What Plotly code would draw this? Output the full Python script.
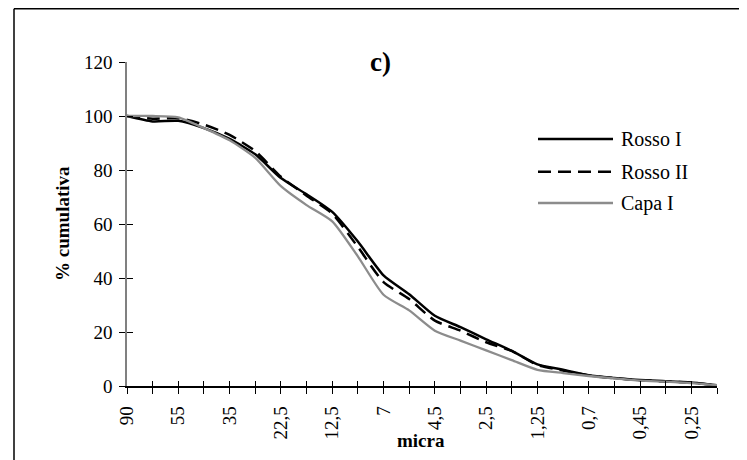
import plotly.graph_objects as go

# Data
tick_labels = ["90", "55", "35", "22,5", "12,5", "7", "4,5", "2,5", "1,25", "0,7", "0,45", "0,25"]
n_points = 24
x_index = list(range(n_points))
tick_positions = list(range(0, 24, 2))

rosso_i = [100, 98.0, 98.2, 95.5, 91.5, 85.8, 77.0, 71.0, 64.5, 53.5, 41.0, 34.0,
           26.0, 21.8, 17.3, 13.0, 8.0, 6.0, 4.0, 3.0, 2.2, 1.8, 1.3, 0.3]
rosso_ii = [100, 99.0, 99.2, 96.8, 93.0, 87.0, 77.5, 70.5, 63.8, 51.5, 38.5, 32.2,
            24.2, 20.5, 16.2, 13.0, 7.8, 5.7, 3.9, 2.9, 2.1, 1.7, 1.2, 0.3]
capa_i = [100, 100, 99.5, 95.5, 91.0, 84.5, 74.0, 67.0, 61.0, 48.0, 33.8, 28.0,
          20.5, 16.8, 13.2, 9.6, 6.0, 4.8, 3.7, 2.8, 2.0, 1.6, 1.1, 0.3]

series_names = ["Rosso I", "Rosso II", "Capa I"]
series_values = [rosso_i, rosso_ii, capa_i]
series_styles = [
    dict(color="black", width=2.5, dash="solid"),
    dict(color="black", width=2.5, dash="13px,7px"),
    dict(color="#8c8c8c", width=2.3, dash="solid"),
]

FONT = "Liberation Serif, Times New Roman, serif"

# page is offset by the 8px body margin
W, H = 739, 452
L, R, T, B = 119, 30, 54, 74
pw, ph = W - L - R, H - T - B


def px_x(fx):
    return (fx - L) / pw


def px_y(fy):
    return (H - B - fy) / ph


fig = go.Figure()
for name, vals, st in zip(series_names, series_values, series_styles):
    fig.add_trace(go.Scatter(x=x_index, y=vals, name=name, mode="lines", showlegend=False,
                             line=dict(color=st["color"], width=st["width"], dash=st["dash"],
                                       shape="spline", smoothing=0.6)))

# empty trace so the overlay axes (inner half of the crossing ticks) are drawn
fig.add_trace(go.Scatter(x=[], y=[], xaxis="x2", yaxis="y2", showlegend=False, hoverinfo="skip"))

fig.update_layout(
    width=W, height=H,
    margin=dict(l=L, r=R, t=T, b=B, autoexpand=False),
    paper_bgcolor="white", plot_bgcolor="white",
    font=dict(family=FONT, size=19, color="black"),
    showlegend=False,
    xaxis=dict(range=[0, n_points - 1], tickvals=tick_positions, ticktext=tick_labels,
               tickangle=-90, ticks="outside", ticklen=6, tickcolor="black", tickwidth=1,
               showline=True, linecolor="black", linewidth=1.5, showgrid=False, zeroline=False,
               minor=dict(dtick=1, tick0=0, ticks="outside", ticklen=6, tickcolor="black",
                          tickwidth=1, showgrid=False),
               ticklabelstandoff=5, tickfont=dict(size=19, family=FONT)),
    yaxis=dict(range=[0, 120], dtick=20, ticks="outside", ticklen=6, tickcolor="black", tickwidth=1,
               showline=True, linecolor="#808080", linewidth=1.5, showgrid=False, zeroline=False,
               ticklabelstandoff=3, tickfont=dict(size=19, family=FONT)),
    xaxis2=dict(range=[0, n_points - 1], overlaying="x", anchor="y2", side="bottom",
                tickmode="linear", tick0=0, dtick=1, showticklabels=False, ticks="inside", ticklen=5,
                tickcolor="black", tickwidth=1, showline=False, showgrid=False, zeroline=False),
    yaxis2=dict(range=[0, 120], overlaying="y", anchor="x2", side="left", dtick=20,
                showticklabels=False, ticks="inside", ticklen=6, tickcolor="black", tickwidth=1,
                showline=False, showgrid=False, zeroline=False),
)

annotations = [
    dict(text="<b>c)</b>", x=px_x(372), y=px_y(53.7), xref="paper", yref="paper",
         xanchor="center", yanchor="middle", showarrow=False, font=dict(size=27, family=FONT)),
    dict(text="<b>micra</b>", x=px_x(413), y=px_y(432), xref="paper", yref="paper",
         xanchor="center", yanchor="middle", showarrow=False, font=dict(size=19, family=FONT)),
    dict(text="<b>% cumulativa</b>", x=px_x(54), y=0.5, xref="paper", yref="paper", textangle=-90,
         xanchor="center", yanchor="middle", showarrow=False, font=dict(size=19, family=FONT)),
]

# legend drawn by hand so the sample lines are as long as in the reference
legend_rows_y = [131, 163.7, 195]
for name, st, ry in zip(series_names, series_styles, legend_rows_y):
    fig.add_shape(type="line", xref="paper", yref="paper",
                  x0=px_x(530), x1=px_x(605), y0=px_y(ry), y1=px_y(ry),
                  line=dict(color=st["color"], width=st["width"], dash=st["dash"]))
    annotations.append(dict(text=name, x=px_x(611), y=px_y(ry), xref="paper", yref="paper",
                            xanchor="left", yanchor="middle", showarrow=False,
                            font=dict(size=20, family=FONT)))

fig.update_layout(annotations=annotations)

# Outer chart frame: only its top and left sides are inside the picture
frame_style = dict(color="black", width=1.5)
fig.add_shape(type="line", xref="paper", yref="paper", layer="below",
              x0=px_x(6), x1=px_x(W), y0=px_y(0.8), y1=px_y(0.8), line=frame_style)
fig.add_shape(type="line", xref="paper", yref="paper", layer="below",
              x0=px_x(6), x1=px_x(6), y0=px_y(0.8), y1=px_y(H), line=frame_style)

fig.write_html("out.html")
